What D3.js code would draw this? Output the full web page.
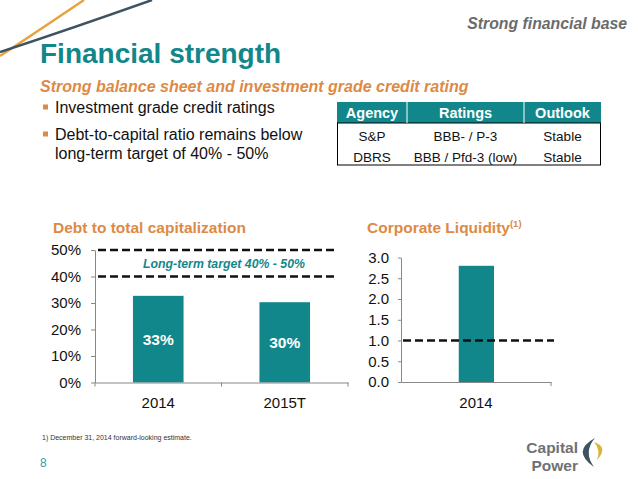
<!DOCTYPE html>
<html>
<head>
<meta charset="utf-8">
<script src="https://cdn.jsdelivr.net/npm/d3@7"></script>
<style>
  body { margin: 0; background: #fff; }
  text { font-family: "Liberation Sans", Arial, sans-serif; }
</style>
</head>
<body>
<div id="slide"></div>
<script>
var svgWidth = 638;
var svgHeight = 479;

var teal = "#12878b";
var orange = "#dd8a45";

// data
var debtYears = ["2014", "2015T"];
var debtValues = [0.327, 0.303];
var debtLabels = ["33%", "30%"];
var debtTicks = [0, 0.1, 0.2, 0.3, 0.4, 0.5];
var targetLines = [0.4, 0.5];

var liqYears = ["2014"];
var liqValues = [2.8];
var liqTicks = [0, 0.5, 1.0, 1.5, 2.0, 2.5, 3.0];
var liqThreshold = [1.0];

var tableHeader = ["Agency", "Ratings", "Outlook"];
var tableRows = [
  ["S&P", "BBB- / P-3", "Stable"],
  ["DBRS", "BBB / Pfd-3 (low)", "Stable"]
];

var bullets = [
  ["Investment grade credit ratings"],
  ["Debt-to-capital ratio remains below", "long-term target of 40% - 50%"]
];

var svg = d3.select("#slide")
  .append("svg")
  .attr("width", svgWidth)
  .attr("height", svgHeight);

svg.append("rect").attr("width", svgWidth).attr("height", svgHeight).attr("fill", "#fff");

///////////////////////////////////////////////////////////////////////
// header

svg.append("path")
  .attr("d", "M0,56 Q35,33 84,0")
  .attr("fill", "none").attr("stroke", "#e9a13b").attr("stroke-width", 2.4);
svg.append("path")
  .attr("d", "M0,52 Q70,29 152,0")
  .attr("fill", "none").attr("stroke", "#3e5260").attr("stroke-width", 2.4);

svg.append("text")
  .attr("x", 627).attr("y", 29)
  .attr("text-anchor", "end")
  .attr("font-size", 15.8).attr("font-weight", "bold").attr("font-style", "italic")
  .attr("fill", "#6b6b6b")
  .text("Strong financial base");

svg.append("text")
  .attr("x", 40).attr("y", 63)
  .attr("font-size", 28).attr("font-weight", "bold")
  .attr("fill", teal)
  .text("Financial strength");

svg.append("text")
  .attr("x", 40).attr("y", 92)
  .attr("font-size", 16).attr("font-weight", "bold").attr("font-style", "italic")
  .attr("fill", orange)
  .text("Strong balance sheet and investment grade credit rating");

var bulletY = [113, 140];
bullets.forEach(function(lines, i) {
  svg.append("rect")
    .attr("x", 43).attr("y", bulletY[i] - 8.5)
    .attr("width", 5).attr("height", 5)
    .attr("fill", orange);
  lines.forEach(function(line, j) {
    svg.append("text")
      .attr("x", 55).attr("y", bulletY[i] + j * 18.5)
      .attr("font-size", 16).attr("fill", "#111")
      .text(line);
  });
});

///////////////////////////////////////////////////////////////////////
// ratings table

var colEdges = [337, 407, 524, 601];

svg.append("rect")
  .attr("x", 337).attr("y", 102).attr("width", 264).attr("height", 21)
  .attr("fill", teal);
svg.append("rect")
  .attr("x", 337.5).attr("y", 123).attr("width", 263).attr("height", 42)
  .attr("fill", "none").attr("stroke", "#000").attr("stroke-width", 1);

colEdges.slice(1, 3).forEach(function(x) {
  svg.append("line")
    .attr("x1", x).attr("x2", x).attr("y1", 102).attr("y2", 123)
    .attr("stroke", "#fff").attr("stroke-width", 1);
});

tableHeader.forEach(function(h, i) {
  svg.append("text")
    .attr("x", (colEdges[i] + colEdges[i + 1]) / 2).attr("y", 118)
    .attr("text-anchor", "middle")
    .attr("font-size", 14.5).attr("font-weight", "bold").attr("fill", "#fff")
    .text(h);
});

tableRows.forEach(function(row, r) {
  row.forEach(function(cell, i) {
    svg.append("text")
      .attr("x", (colEdges[i] + colEdges[i + 1]) / 2).attr("y", 141 + r * 21)
      .attr("text-anchor", "middle")
      .attr("font-size", 13.5).attr("fill", "#111")
      .text(cell);
  });
});

///////////////////////////////////////////////////////////////////////
// Debt to total capitalization

svg.append("text")
  .attr("x", 53).attr("y", 233)
  .attr("font-size", 15.5).attr("font-weight", "bold").attr("fill", orange)
  .text("Debt to total capitalization");

var y1 = d3.scaleLinear().domain([0, 0.5]).range([382.5, 250]);
var x1 = d3.scaleBand().domain(debtYears).range([95, 348]);

var g1 = svg.append("g");

g1.selectAll(".bar1")
  .data(debtValues)
  .enter()
  .append("rect")
  .attr("class", "bar1")
  .attr("x", (d, i) => x1(debtYears[i]) + x1.bandwidth() * 0.3)
  .attr("width", x1.bandwidth() * 0.4)
  .attr("y", d => y1(d))
  .attr("height", d => y1(0) - y1(d))
  .attr("fill", teal);

g1.selectAll(".lab1")
  .data(debtValues)
  .enter()
  .append("text")
  .attr("x", (d, i) => x1(debtYears[i]) + x1.bandwidth() / 2)
  .attr("y", d => (y1(d) + y1(0)) / 2 + 5.5)
  .attr("text-anchor", "middle")
  .attr("font-size", 15.5).attr("font-weight", "bold").attr("fill", "#fff")
  .text((d, i) => debtLabels[i]);

g1.selectAll(".target")
  .data(targetLines)
  .enter()
  .append("line")
  .attr("x1", 98).attr("x2", 335)
  .attr("y1", d => y1(d)).attr("y2", d => y1(d))
  .attr("stroke", "#111").attr("stroke-width", 2.4)
  .attr("stroke-dasharray", "8,4");

g1.append("text")
  .attr("x", 224).attr("y", (y1(0.4) + y1(0.5)) / 2 + 4.5)
  .attr("text-anchor", "middle")
  .attr("font-size", 12.3).attr("font-weight", "bold").attr("font-style", "italic")
  .attr("fill", teal)
  .text("Long-term target 40% - 50%");

var yAxis1 = g1.append("g")
  .attr("transform", "translate(95,0)")
  .call(d3.axisLeft(y1).tickValues(debtTicks).tickSize(4).tickSizeOuter(0).tickPadding(10)
    .tickFormat(d3.format(".0%")));

var xAxis1 = g1.append("g")
  .attr("transform", "translate(0,382.5)")
  .call(d3.axisBottom(x1).tickSize(0).tickSizeOuter(0).tickPadding(15));

xAxis1.selectAll(".bound")
  .data(debtYears.map(d => x1(d)).concat([x1.range()[1]]))
  .enter()
  .append("line")
  .attr("class", "bound")
  .attr("x1", d => d).attr("x2", d => d)
  .attr("y1", 0).attr("y2", 4)
  .attr("stroke", "#888");

///////////////////////////////////////////////////////////////////////
// Corporate Liquidity

var title2 = svg.append("text")
  .attr("x", 367).attr("y", 233)
  .attr("font-size", 15.5).attr("font-weight", "bold").attr("fill", orange);
title2.append("tspan").text("Corporate Liquidity");
title2.append("tspan").attr("dy", -6).attr("font-size", 9.5).text("(1)");

var y2 = d3.scaleLinear().domain([0, 3]).range([382, 257.5]);
var x2 = d3.scaleBand().domain(liqYears).range([401, 551]);

var g2 = svg.append("g");

g2.selectAll(".bar2")
  .data(liqValues)
  .enter()
  .append("rect")
  .attr("class", "bar2")
  .attr("x", (d, i) => x2(liqYears[i]) + x2.bandwidth() * 0.385)
  .attr("width", x2.bandwidth() * 0.235)
  .attr("y", d => y2(d))
  .attr("height", d => y2(0) - y2(d))
  .attr("fill", teal);

g2.selectAll(".thresh")
  .data(liqThreshold)
  .enter()
  .append("line")
  .attr("x1", 403).attr("x2", 554)
  .attr("y1", d => y2(d)).attr("y2", d => y2(d))
  .attr("stroke", "#111").attr("stroke-width", 2.4)
  .attr("stroke-dasharray", "8,4");

var yAxis2 = g2.append("g")
  .attr("transform", "translate(401,0)")
  .call(d3.axisLeft(y2).tickValues(liqTicks).tickSize(3).tickSizeOuter(0).tickPadding(9)
    .tickFormat(d3.format(".1f")));

var xAxis2 = g2.append("g")
  .attr("transform", "translate(0,382)")
  .call(d3.axisBottom(x2).tickSize(0).tickSizeOuter(0).tickPadding(15));

xAxis2.selectAll(".bound")
  .data([x2.range()[1]])
  .enter()
  .append("line")
  .attr("class", "bound")
  .attr("x1", d => d).attr("x2", d => d)
  .attr("y1", 0).attr("y2", 4)
  .attr("stroke", "#888");

// axis styling
svg.selectAll(".tick text")
  .attr("font-size", 15).attr("fill", "#111")
  .attr("font-family", "'Liberation Sans', Arial, sans-serif");
svg.selectAll(".domain, .tick line").attr("stroke", "#888");

///////////////////////////////////////////////////////////////////////
// footer

svg.append("text")
  .attr("x", 42).attr("y", 439.5)
  .attr("font-size", 7).attr("fill", "#333")
  .text("1)   December 31, 2014 forward-looking estimate.");

svg.append("text")
  .attr("x", 40).attr("y", 467)
  .attr("font-size", 12).attr("fill", "#3a9aa5")
  .text("8");

svg.append("text")
  .attr("x", 578).attr("y", 453)
  .attr("text-anchor", "end")
  .attr("font-size", 15.5).attr("font-weight", "bold").attr("fill", "#707173")
  .text("Capital");
svg.append("text")
  .attr("x", 578).attr("y", 470.5)
  .attr("text-anchor", "end")
  .attr("font-size", 15.5).attr("font-weight", "bold").attr("fill", "#707173")
  .text("Power");

svg.append("path")
  .attr("d", "M595,438 Q571,451 594,467 Q583,452 595,438 Z")
  .attr("fill", "#3e5260");
svg.append("path")
  .attr("d", "M594,442 Q609,447 597,460 Q601,450 594,442 Z")
  .attr("fill", "#d9b43a");
</script>
</body>
</html>
